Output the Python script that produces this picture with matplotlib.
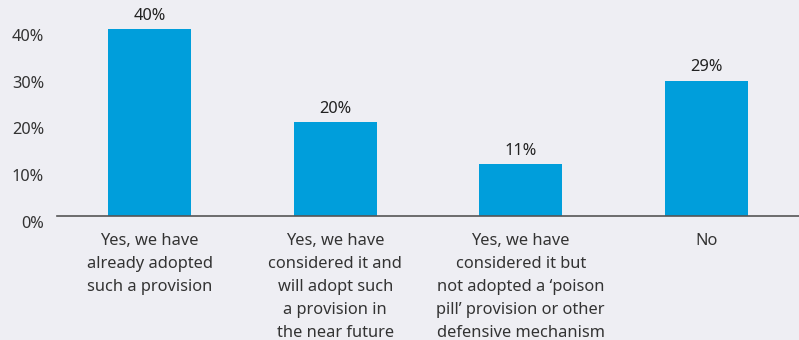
import matplotlib.pyplot as plt

# survey answers and share of respondents
answers = [
    "Yes, we have\nalready adopted\nsuch a provision",
    "Yes, we have\nconsidered it and\nwill adopt such\na provision in\nthe near future",
    "Yes, we have\nconsidered it but\nnot adopted a \u2018poison\npill\u2019 provision or other\ndefensive mechanism",
    "No",
]
shares = [40, 20, 11, 29]
yticks = [0, 10, 20, 30, 40]

bg = "#eeeef3"
blue = "#009edb"
txt = "#333333"

plt.rcParams["font.family"] = ["Noto Sans", "DejaVu Sans"]

fig = plt.figure(figsize=(7.99, 3.40), dpi=100, facecolor=bg)
ax = fig.add_axes([57 / 799, 1 - 215.5 / 340, 1 - 57 / 799, 215.5 / 340])
ax.set_facecolor(bg)

x = range(len(shares))
ax.bar(x, shares, width=0.45, color=blue, zorder=2)
for xi, v in zip(x, shares):
    ax.text(xi, v + 1.1, f"{v}%", ha="center", va="bottom", fontsize=11.8, color="#222222")

ax.set_xlim(-0.5, 3.5)
ax.set_ylim(0, 46.3)
ax.set_yticks(yticks)
ax.set_yticklabels([f"{t}%" for t in yticks], fontsize=11.8, color=txt, va="top")
ax.set_xticks(list(x))
ax.set_xticklabels(answers, fontsize=11.8, color=txt, linespacing=1.58, va="top")
ax.tick_params(axis="both", length=0)
ax.tick_params(axis="x", pad=12.5)
ax.tick_params(axis="y", pad=9.4)

for s in ["top", "right", "left"]:
    ax.spines[s].set_visible(False)
ax.spines["bottom"].set_color("#555555")
ax.spines["bottom"].set_linewidth(1.2)

fig.savefig("out.png", dpi=100, facecolor=bg)
